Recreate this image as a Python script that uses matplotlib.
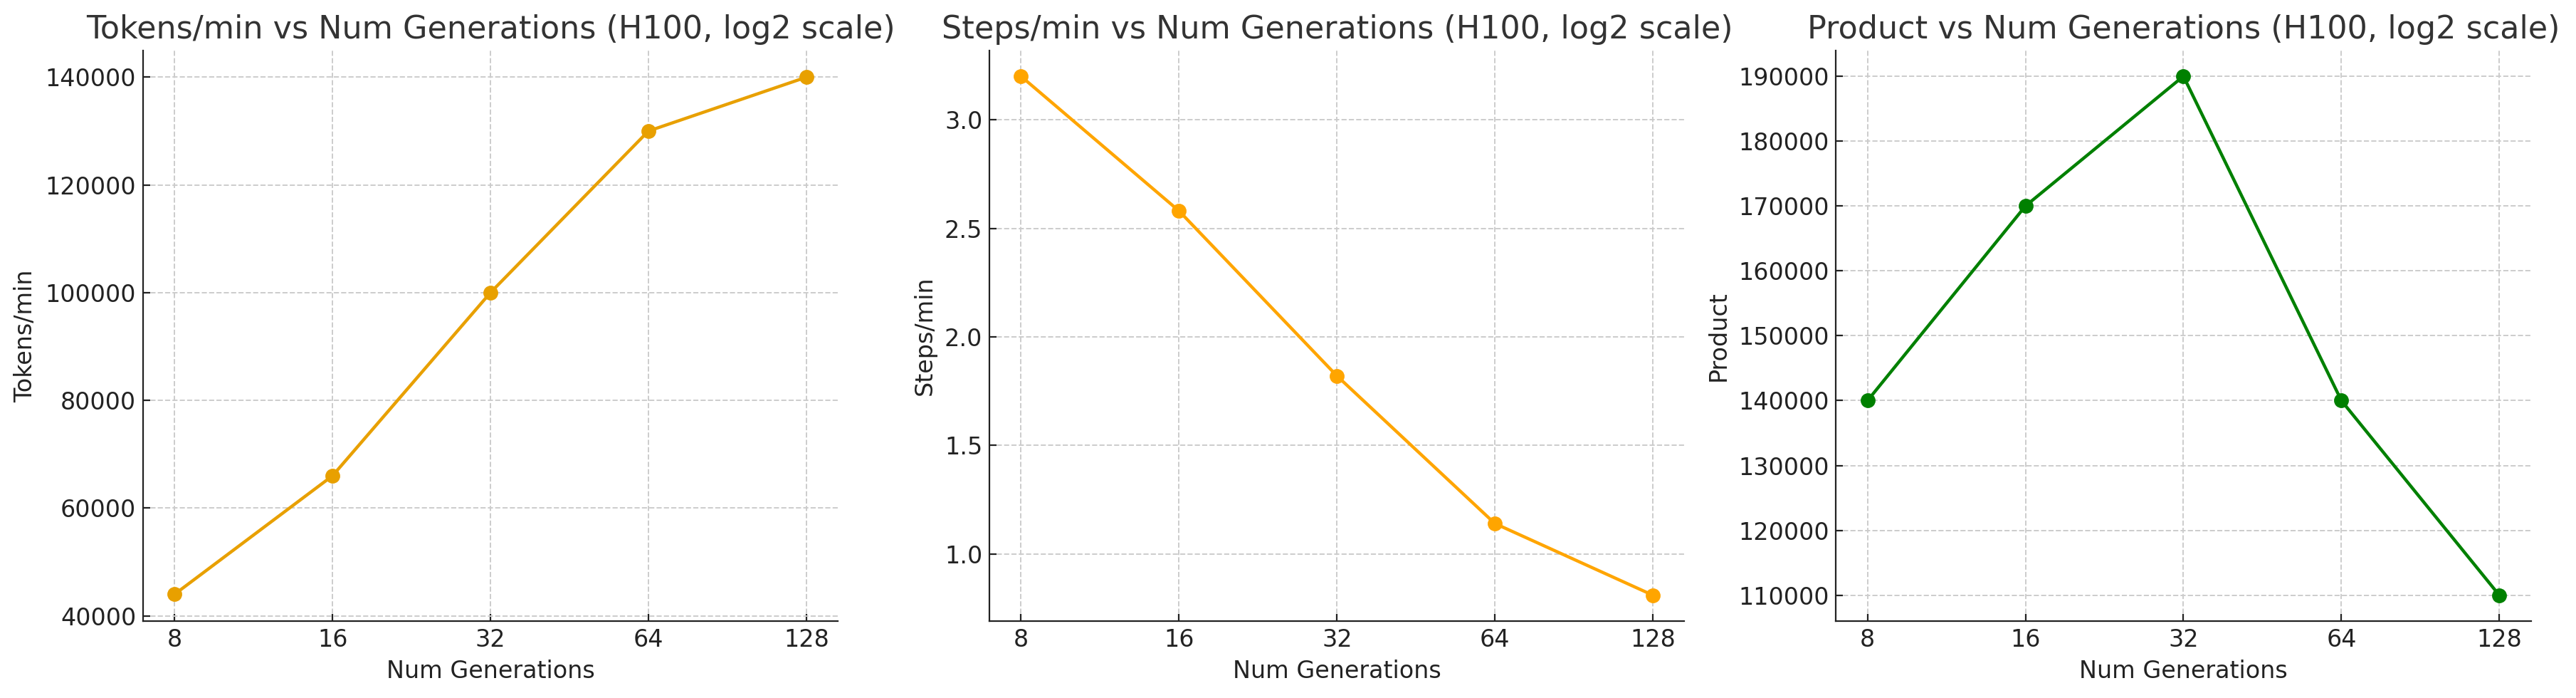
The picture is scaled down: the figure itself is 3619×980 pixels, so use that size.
#plot.py - three panels of H100 throughput vs num generations (log2 x axis)

import matplotlib.pyplot as plt
from matplotlib.ticker import FixedLocator, FixedFormatter, NullLocator

#data
num_generations = [8, 16, 32, 64, 128]
gen_labels = ['8', '16', '32', '64', '128']
tokens_per_min = [44000, 66000, 100000, 130000, 140000]
steps_per_min = [3.2, 2.58, 1.82, 1.14, 0.81]
product = [140000, 170000, 190000, 140000, 110000]

#style
plt.rcParams['font.family'] = 'DejaVu Sans'
plt.rcParams['font.size'] = 12
plt.rcParams['xtick.direction'] = 'in'
plt.rcParams['ytick.direction'] = 'in'
plt.rcParams['axes.edgecolor'] = '#222222'
plt.rcParams['xtick.color'] = '#222222'
plt.rcParams['ytick.color'] = '#222222'

fig, axes = plt.subplots(1, 3, figsize=(18.095, 4.9), dpi=200)
fig.subplots_adjust(left=0.0555, right=0.9825, top=0.928, bottom=0.11, wspace=0.218)

panels = [
    (tokens_per_min, '#E8A000', 'Tokens/min', 'Tokens/min vs Num Generations (H100, log2 scale)'),
    (steps_per_min, '#FFA500', 'Steps/min', 'Steps/min vs Num Generations (H100, log2 scale)'),
    (product, 'green', 'Product', 'Product vs Num Generations (H100, log2 scale)'),
]

for ax, (vals, col, ylab, title) in zip(axes, panels):
    ax.plot(num_generations, vals, marker='o', color=col, linewidth=1.6, markersize=6.5)
    ax.set_xscale('log', base=2)
    ax.xaxis.set_major_locator(FixedLocator(num_generations))
    ax.xaxis.set_major_formatter(FixedFormatter(gen_labels))
    ax.xaxis.set_minor_locator(NullLocator())
    ax.set_xlabel('Num Generations', fontsize=12, color='#222222')
    ax.set_ylabel(ylab, fontsize=12, color='#222222')
    ax.set_title(title, fontsize=16, color='#333333')
    ax.grid(True, linestyle='--', color='#cccccc', linewidth=0.7)
    ax.spines['top'].set_visible(False)
    ax.spines['right'].set_visible(False)
    ax.tick_params(labelsize=12)

axes[0].set_yticks([40000, 60000, 80000, 100000, 120000, 140000])
axes[0].set_ylim(39000, 145000)
axes[1].set_yticks([1.0, 1.5, 2.0, 2.5, 3.0])
axes[1].set_ylim(0.69, 3.32)
axes[2].set_yticks([110000, 120000, 130000, 140000, 150000, 160000, 170000, 180000, 190000])
axes[2].set_ylim(106000, 194000)

plt.savefig('out.png', dpi=200)
print('saved out.png')
